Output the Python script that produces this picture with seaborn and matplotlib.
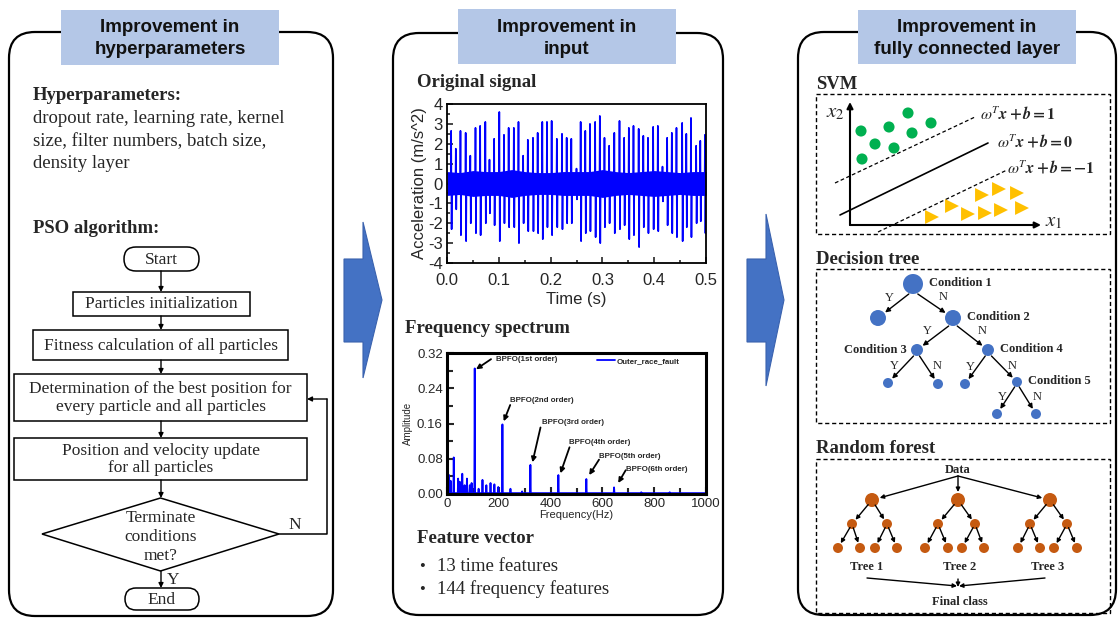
import matplotlib
matplotlib.use("Agg")
import matplotlib.pyplot as plt
from matplotlib.patches import FancyBboxPatch, Rectangle, Polygon
from matplotlib.ticker import MultipleLocator, FormatStrFormatter
from matplotlib.font_manager import FontProperties
from matplotlib.mathtext import MathTextParser
import numpy as np
import pandas as pd
import seaborn as sns

# ---------------------------------------------------------------- data
header_titles = [["Improvement in", "hyperparameters"], ["Improvement in", "input"],
                 ["Improvement in", "fully connected layer"]]
hyper_title = "Hyperparameters:"
hyper_lines = ["dropout rate, learning rate, kernel", "size, filter numbers, batch size,", "density layer"]
pso_title = "PSO algorithm:"
flow_steps = ["Particles initialization", "Fitness calculation of all particles",
              "Determination of the best position for\nevery particle and all particles",
              "Position and velocity update\nfor all particles"]
flow_decision = "Terminate\nconditions\nmet?"

# time signal (impulse peaks)
impulse_t = [0.008, 0.017, 0.026, 0.036, 0.045, 0.055, 0.064, 0.074, 0.082, 0.091,
             0.101, 0.110, 0.119, 0.129, 0.138, 0.147, 0.156, 0.166, 0.175, 0.184,
             0.193, 0.202, 0.212, 0.222, 0.231, 0.240, 0.250, 0.258, 0.267, 0.276,
             0.286, 0.295, 0.304, 0.313, 0.323, 0.333, 0.342, 0.351, 0.360, 0.370,
             0.379, 0.388, 0.398, 0.407, 0.416, 0.425, 0.434, 0.443, 0.454, 0.462,
             0.471, 0.481, 0.489, 0.498]
impulse_pos = [2.65, 1.75, 2.65, 2.55, 1.4, 2.8, 2.9, 3.1, 1.2, 2.25,
               3.6, 2.45, 2.8, 2.8, 3.1, 1.4, 2.2, 2.3, 2.55, 3.1,
               3.1, 3.15, 2.25, 2.5, 2.3, 2.25, 0.75, 3.1, 2.65, 3.0,
               3.1, 3.4, 2.3, 1.9, 2.55, 3.15, 2.3, 2.8, 2.9, 2.75,
               2.4, 2.3, 2.85, 2.9, 0.85, 2.3, 2.55, 2.8, 3.05, 2.5,
               3.3, 1.9, 2.15, 2.45]
impulse_neg = [-2.3, -1.3, -2.6, -2.9, -2.0, -2.5, -2.6, -2.0, -1.5, -2.1,
               -2.9, -2.0, -2.2, -2.2, -3.0, -2.0, -2.4, -2.4, -2.5, -2.8,
               -2.2, -2.6, -2.2, -2.3, -2.0, -2.0, -0.8, -2.9, -2.5, -2.4,
               -2.7, -3.0, -2.2, -2.0, -2.5, -2.3, -2.1, -2.8, -2.6, -3.2,
               -2.2, -2.5, -2.3, -2.4, -0.9, -2.1, -2.5, -2.7, -2.9, -2.2,
               -2.7, -2.0, -1.9, -2.5]
band_t = [0.0, 0.025, 0.05, 0.075, 0.1, 0.125, 0.15, 0.175, 0.2, 0.225, 0.25,
          0.275, 0.3, 0.325, 0.35, 0.375, 0.4, 0.425, 0.45, 0.475, 0.5]
band_amp = [0.6, 0.55, 0.65, 0.6, 0.6, 0.7, 0.6, 0.55, 0.55, 0.6, 0.6,
            0.6, 0.7, 0.6, 0.55, 0.6, 0.65, 0.6, 0.55, 0.6, 0.6]

# spectrum peaks
peak_freq = [8, 14, 26, 43, 49, 59, 68, 77, 88, 95, 107, 122, 137, 152, 168, 183, 198,
             214, 245, 290, 322, 430, 538, 645, 750, 860]
peak_amp = [0.043, 0.03, 0.083, 0.035, 0.028, 0.046, 0.02, 0.035, 0.02, 0.025, 0.285,
            0.012, 0.032, 0.02, 0.025, 0.022, 0.016, 0.158, 0.012, 0.006, 0.066,
            0.043, 0.034, 0.015, 0.004, 0.004]
order_labels = ["BPFO(1st order)", "BPFO(2nd order)", "BPFO(3rd order)",
                "BPFO(4th order)", "BPFO(5th order)", "BPFO(6th order)"]
order_text_f = [188, 245, 365, 470, 586, 691]
order_text_a = [0.305, 0.213, 0.162, 0.117, 0.085, 0.056]
order_from_f = [170, 244, 361, 473, 587, 690]
order_from_a = [0.306, 0.202, 0.151, 0.106, 0.078, 0.054]
order_tip_f = [112, 219, 330, 438, 549, 661]
order_tip_a = [0.283, 0.165, 0.072, 0.047, 0.043, 0.025]
legend_label = "Outer_race_fault"

feature_lines = ["13 time features", "144 frequency features"]

# SVM sketch (points in panel pixel space)
svm_circle_x = [861, 889, 908, 931, 912, 875, 894, 862]
svm_circle_y = [131, 127, 113, 123, 133, 144, 148, 159]
svm_tri_x = [932, 952, 968, 985, 1001, 1022, 982, 999, 1017]
svm_tri_y = [217, 206, 214, 213, 210, 208, 195, 189, 193]
svm_eqs = ["1", "0", "-1"]

# decision tree
dt_x = [913, 878, 953, 917, 988, 888, 938, 965, 1017, 997, 1036]
dt_y = [284, 318, 318, 350, 350, 383, 384, 384, 382, 414, 414]
dt_r = [10, 8, 8, 6, 6, 5, 5, 5, 5, 5, 5]
dt_edges = [(0, 1), (0, 2), (2, 3), (2, 4), (3, 5), (3, 6), (4, 7), (4, 8), (8, 9), (8, 10)]
dt_edge_lbl = ["Y", "N", "Y", "N", "Y", "N", "Y", "N", "Y", "N"]
dt_lbl_x = [889, 943, 927, 982, 894, 937, 970, 1012, 1002, 1037]
dt_lbl_y = [298, 297, 331, 331, 366, 366, 367, 366, 397, 397]
dt_cond = ["Condition 1", "Condition 2", "Condition 3", "Condition 4", "Condition 5"]
dt_cond_node = [0, 2, 3, 4, 8]

# random forest
rf_root_x = [872, 958, 1050]
rf_mid_x = [852, 887, 938, 975, 1030, 1067]
rf_leaf_x = [838, 860, 875, 897, 925, 948, 962, 984, 1018, 1040, 1054, 1077]
rf_tree_labels = ["Tree 1", "Tree 2", "Tree 3"]

# ---------------------------------------------------------------- style
sns.set_style("white")
SERIF = ['Liberation Serif', 'DejaVu Serif']
SANS = ['Liberation Sans', 'DejaVu Sans']
plt.rcParams['font.family'] = SERIF
plt.rcParams['mathtext.fontset'] = 'stix'
plt.rcParams['axes.unicode_minus'] = False

BLUE_HDR = '#B4C7E7'
BLUE_ARW = '#4472C4'
W, H = 1118, 618
fig = plt.figure(figsize=(W / 100, H / 100), dpi=100)
bg = fig.add_axes([0, 0, 1, 1])
bg.set_xlim(0, W)
bg.set_ylim(H, 0)
bg.axis('off')


def arrow(ax, x0, y0, x1, y1, lw=1.0, ms=8, color='black', z=4):
    ax.annotate('', xy=(x1, y1), xytext=(x0, y0),
                arrowprops=dict(arrowstyle='-|>', lw=lw, color=color, mutation_scale=ms,
                                shrinkA=0, shrinkB=0), zorder=z)


# panels
panels = [(9, 32, 333, 616), (393, 33, 723, 615), (798, 32, 1116, 615)]
for (x0, y0, x1, y1) in panels:
    bg.add_patch(FancyBboxPatch((x0, y0), x1 - x0, y1 - y0,
                                boxstyle="round,pad=0,rounding_size=26",
                                fc='white', ec='black', lw=1.6, zorder=1))
headers = [(61, 10, 279, 65), (458, 9, 676, 64), (858, 10, 1076, 64)]
for (x0, y0, x1, y1), lines in zip(headers, header_titles):
    bg.add_patch(Rectangle((x0, y0), x1 - x0, y1 - y0, fc=BLUE_HDR, ec='none', zorder=2))
    cx = (x0 + x1) / 2
    bg.text(cx, 32, lines[0], ha='center', va='baseline', family=SANS, fontsize=13.5,
            fontweight='bold', color='#111111', zorder=3)
    bg.text(cx, 54, lines[1], ha='center', va='baseline', family=SANS, fontsize=13.5,
            fontweight='bold', color='#111111', zorder=3)

# block arrows
for pts in [[(344, 259), (363, 259), (363, 222), (382, 300), (363, 378), (363, 342), (344, 342)],
            [(747, 259), (766, 259), (766, 214), (784, 300), (766, 386), (766, 342), (747, 342)]]:
    bg.add_patch(Polygon(pts, closed=True, fc=BLUE_ARW, ec='#3A62AE', lw=0.8, zorder=2))

# ---------------------------------------------------------------- left panel
bg.text(33, 100, hyper_title, fontsize=13.5, fontweight='bold', va='baseline', zorder=3)
for i, ln in enumerate(hyper_lines):
    bg.text(33, 123 + 22.7 * i, ln, fontsize=13.5, va='baseline', zorder=3)
bg.text(33, 233, pso_title, fontsize=13.5, fontweight='bold', va='baseline', zorder=3)

FS = 12.5
cx = 161
bg.add_patch(FancyBboxPatch((124, 247), 75, 24, boxstyle="round,pad=0,rounding_size=12",
                            fc='white', ec='black', lw=1.1, zorder=2))
bg.text(161.5, 259.5, "Start", ha='center', va='center', fontsize=FS, zorder=3)
boxes = [(73, 292, 250, 316), (33, 330, 288, 360), (14, 374, 307, 421), (14, 438, 307, 480)]
for (x0, y0, x1, y1), s in zip(boxes, flow_steps):
    bg.add_patch(Rectangle((x0, y0), x1 - x0, y1 - y0, fc='white', ec='black', lw=1.1, zorder=2))
    bg.text((x0 + x1) / 2, (y0 + y1) / 2 + 0.5, s, ha='center', va='center', fontsize=FS,
            linespacing=1.1, zorder=3)
bg.add_patch(Polygon([(42, 534), (160.5, 498), (279, 534), (160.5, 571)], closed=True,
                     fc='white', ec='black', lw=1.1, zorder=2))
bg.text(160.5, 537, flow_decision, ha='center', va='center', fontsize=FS, linespacing=1.24, zorder=3)
bg.add_patch(FancyBboxPatch((125, 588), 74, 22, boxstyle="round,pad=0,rounding_size=11",
                            fc='white', ec='black', lw=1.1, zorder=2))
bg.text(162, 599.5, "End", ha='center', va='center', fontsize=FS, zorder=3)
for (a, b) in [(271, 292), (316, 330), (360, 374), (421, 438), (480, 498), (571, 588)]:
    arrow(bg, cx, a, cx, b, lw=1.0, ms=7)
bg.plot([279, 327, 327], [534, 534, 399], color='black', lw=1.1, zorder=2)
arrow(bg, 327, 399, 307, 399, lw=1.0, ms=7)
bg.text(295, 525, "N", ha='center', va='center', fontsize=FS, zorder=3)
bg.text(173, 580, "Y", ha='center', va='center', fontsize=FS, zorder=3)

# ---------------------------------------------------------------- middle panel
bg.text(417, 87, "Original signal", fontsize=13.5, fontweight='bold', va='baseline', zorder=3)
bg.text(405, 333, "Frequency spectrum", fontsize=13.5, fontweight='bold', va='baseline', zorder=3)
bg.text(417, 543, "Feature vector", fontsize=13.5, fontweight='bold', va='baseline', zorder=3)
for i, ln in enumerate(feature_lines):
    y = 571 + 23 * i
    bg.text(422, y, "\u2022", fontsize=12, va='baseline', ha='center', zorder=3)
    bg.text(437, y, ln, fontsize=13.5, va='baseline', zorder=3)

# signal axes
sig = fig.add_axes([447 / W, 1 - 263 / H, 259 / W, 159 / H])
sig_t, sig_a = [0.0], [0.0]
for t, p, n in zip(impulse_t, impulse_pos, impulse_neg):
    sig_t += [t - 0.0006, t, t + 0.0009, t + 0.0016]
    sig_a += [0.0, p, n, 0.0]
sig_t.append(0.5)
sig_a.append(0.0)
sig_df = pd.DataFrame({"t": sig_t, "a": sig_a})
sig.fill_between(band_t, [-v for v in band_amp], band_amp, color='#0000FF', lw=0)
sns.lineplot(data=sig_df, x="t", y="a", ax=sig, color='#0000FF', lw=1.2, estimator=None, sort=False)
sig.set_xlim(0, 0.5)
sig.set_ylim(-4, 4)
sig.xaxis.set_major_locator(MultipleLocator(0.1))
sig.xaxis.set_minor_locator(MultipleLocator(0.05))
sig.yaxis.set_major_locator(MultipleLocator(1))
sig.yaxis.set_minor_locator(MultipleLocator(0.5))
sig.xaxis.set_major_formatter(FormatStrFormatter('%.1f'))
sig.tick_params(which='both', direction='in', bottom=True, left=True, top=False, right=False,
                width=1.2, labelsize=12)
sig.tick_params(axis='x', pad=7)
sig.tick_params(axis='y', pad=3)
sig.tick_params(which='major', length=4)
sig.tick_params(which='minor', length=2.5)
for lab in sig.get_xticklabels() + sig.get_yticklabels():
    lab.set_family(SANS)
sig.set_xlabel("Time (s)", family=SANS, fontsize=12, labelpad=3)
sig.set_ylabel("Acceleration (m/s^2)", family=SANS, fontsize=12, labelpad=1)
for sp in sig.spines.values():
    sp.set_linewidth(1.3)
    sp.set_color('black')

# spectrum axes
spec = fig.add_axes([447 / W, 1 - 494 / H, 259 / W, 141 / H])
sp_f, sp_a = [0.0], [0.002]
for f, a in zip(peak_freq, peak_amp):
    sp_f += [f - 1.5, f, f + 1.5]
    sp_a += [0.002, a, 0.002]
sp_f.append(1000)
sp_a.append(0.002)
spec_df = pd.DataFrame({"f": sp_f, "a": sp_a})
sns.lineplot(data=spec_df, x="f", y="a", ax=spec, color='#0000FF', lw=1.3, estimator=None,
             sort=False, label=legend_label)
spec.set_xlim(0, 1000)
spec.set_ylim(0, 0.32)
spec.xaxis.set_major_locator(MultipleLocator(200))
spec.xaxis.set_minor_locator(MultipleLocator(100))
spec.yaxis.set_major_locator(MultipleLocator(0.08))
spec.yaxis.set_minor_locator(MultipleLocator(0.04))
spec.yaxis.set_major_formatter(FormatStrFormatter('%.2f'))
spec.tick_params(which='both', direction='in', bottom=True, left=True, top=False, right=False,
                 width=1.5, labelsize=9.5, pad=3)
spec.tick_params(which='major', length=5)
spec.tick_params(which='minor', length=4)
for lab in spec.get_xticklabels() + spec.get_yticklabels():
    lab.set_family(SANS)
spec.set_xlabel("Frequency(Hz)", family=SANS, fontsize=8, labelpad=0)
spec.set_ylabel("Amplitude", family=SANS, fontsize=7, labelpad=3)
for s in spec.spines.values():
    s.set_linewidth(2.2)
    s.set_color('black')
spec.legend(loc='center left', bbox_to_anchor=(0.58, 0.94), frameon=False, handlelength=2.2,
            handletextpad=0.3, borderpad=0, borderaxespad=0,
            prop=FontProperties(family=SANS, size=5.7, weight='bold'))
for lbl, tf, ta, ff, fa, pf, pa in zip(order_labels, order_text_f, order_text_a, order_from_f,
                                       order_from_a, order_tip_f, order_tip_a):
    spec.text(tf, ta, lbl, family=SANS, fontsize=5.7, fontweight='bold', ha='left', va='center')
    spec.annotate('', xy=(pf, pa), xytext=(ff, fa),
                  arrowprops=dict(arrowstyle='-|>', lw=1.3, color='black', mutation_scale=7,
                                  shrinkA=0, shrinkB=0))

# ---------------------------------------------------------------- right panel
for (title, yb, box) in [("SVM", 89, (816, 94, 1110, 234)),
                         ("Decision tree", 264, (816, 269, 1110, 423)),
                         ("Random forest", 453, (816, 459, 1110, 613))]:
    bg.text(816, yb, title, fontsize=13.5, fontweight='bold', va='baseline', zorder=3)
    x0, y0, x1, y1 = box
    bg.add_patch(Rectangle((x0, y0), x1 - x0, y1 - y0, fc='none', ec='black', lw=1.0,
                           ls=(0, (3, 2)), zorder=2))

# SVM
arrow(bg, 850, 225, 850, 102, lw=1.5, ms=9)
arrow(bg, 850, 225, 1041, 225, lw=1.5, ms=9)
bg.text(835, 113, r"$\mathit{x}_2$", fontsize=15, ha='center', va='center', zorder=3)
bg.text(1054, 222, r"$\mathit{x}_1$", fontsize=15, ha='center', va='center', zorder=3)
bg.plot([835, 975], [183, 117], color='black', lw=0.9, ls=(0, (3, 2)), zorder=2)
bg.plot([840, 988], [215, 143], color='black', lw=1.2, zorder=2)
bg.plot([878, 1007], [232, 170], color='black', lw=0.9, ls=(0, (3, 2)), zorder=2)

_mp = MathTextParser("path")


def safe_math(primary, fallback):
    try:
        _mp.parse(primary, 72, FontProperties(size=10))
        return primary
    except Exception:
        return fallback


for v, (ex, ey) in zip(svm_eqs, [(980, 113), (997, 141), (1007, 168)]):
    s1 = r"$\boldsymbol{\omega^T x + b = " + v + "}$"
    s2 = r"$\mathbf{\omega^T x + b = " + v + "}$"
    bg.text(ex, ey, safe_math(s1, s2), fontsize=11.5, ha='left', va='center', zorder=3)

sns.scatterplot(x=svm_circle_x, y=svm_circle_y, ax=bg, s=64, color='#00B050', edgecolor='none',
                legend=False, zorder=3)
sns.scatterplot(x=svm_tri_x, y=svm_tri_y, ax=bg, s=100, marker='>', color='#FFC000',
                edgecolor='none', legend=False, zorder=3)

# decision tree
DT_BLUE = '#4472C4'
for r in sorted(set(dt_r)):
    xs = [x for x, rr in zip(dt_x, dt_r) if rr == r]
    ys = [y for y, rr in zip(dt_y, dt_r) if rr == r]
    sns.scatterplot(x=xs, y=ys, ax=bg, s=(2 * r * 0.72) ** 2, color=DT_BLUE, edgecolor='none',
                    legend=False, zorder=3)
for (pi, ci), lab, lx, ly in zip(dt_edges, dt_edge_lbl, dt_lbl_x, dt_lbl_y):
    px, py, pr = dt_x[pi], dt_y[pi], dt_r[pi]
    qx, qy, qr = dt_x[ci], dt_y[ci], dt_r[ci]
    sx, sy = px + (qx - px) * 0.12, py + pr
    dx, dy = qx - sx, qy - sy
    L = np.hypot(dx, dy)
    arrow(bg, sx, sy, qx - dx / L * (qr + 1), qy - dy / L * (qr + 1), lw=1.0, ms=7)
    bg.text(lx, ly, lab, fontsize=9, ha='center', va='center', zorder=3)
for name, ni in zip(dt_cond, dt_cond_node):
    x, y, r = dt_x[ni], dt_y[ni], dt_r[ni]
    if name == "Condition 3":
        bg.text(x - r - 4, y, name, fontsize=9, fontweight='bold', ha='right', va='center', zorder=3)
    else:
        bg.text(x + r + 6, y - 1, name, fontsize=9, fontweight='bold', ha='left', va='center', zorder=3)

# random forest
RF = '#C55A11'
bg.text(958, 470, "Data", fontsize=9, fontweight='bold', ha='center', va='center', zorder=3)
root_y, mid_y, leaf_y = 500, 524, 548
sns.scatterplot(x=rf_root_x, y=[root_y] * 3, ax=bg, s=(14 * 0.72) ** 2, color=RF, edgecolor='none',
                legend=False, zorder=3)
sns.scatterplot(x=rf_mid_x, y=[mid_y] * 6, ax=bg, s=(10 * 0.72) ** 2, color=RF, edgecolor='none',
                legend=False, zorder=3)
sns.scatterplot(x=rf_leaf_x, y=[leaf_y] * 12, ax=bg, s=(10 * 0.72) ** 2, color=RF, edgecolor='none',
                legend=False, zorder=3)


def edge(p, q, rp, rq, ms=6):
    dx, dy = q[0] - p[0], q[1] - p[1]
    L = np.hypot(dx, dy)
    ux, uy = dx / L, dy / L
    arrow(bg, p[0] + ux * rp, p[1] + uy * rp, q[0] - ux * (rq + 0.5), q[1] - uy * (rq + 0.5),
          lw=1.0, ms=ms)


for rx in rf_root_x:
    edge((958, 476), (rx, root_y), 0, 7.5)
for i, rx in enumerate(rf_root_x):
    for j in range(2):
        m = rf_mid_x[2 * i + j]
        edge((rx, root_y), (m, mid_y), 6, 5)
        for k in range(2):
            edge((m, mid_y), (rf_leaf_x[4 * i + 2 * j + k], leaf_y), 4, 5)
for lbl, tx in zip(rf_tree_labels, [867, 960, 1048]):
    bg.text(tx, 567, lbl, fontsize=9, fontweight='bold', ha='center', va='center', zorder=3)
arrow(bg, 867, 578, 957, 586, lw=1.0, ms=6)
arrow(bg, 1045, 578, 959, 586, lw=1.0, ms=6)
arrow(bg, 958, 579, 958, 587, lw=1.0, ms=6)
bg.text(960, 602, "Final class", fontsize=9, fontweight='bold', ha='center', va='center', zorder=3)

bg.set_xlim(0, W)
bg.set_ylim(H, 0)
bg.axis('off')
fig.savefig("out.png", dpi=100)
